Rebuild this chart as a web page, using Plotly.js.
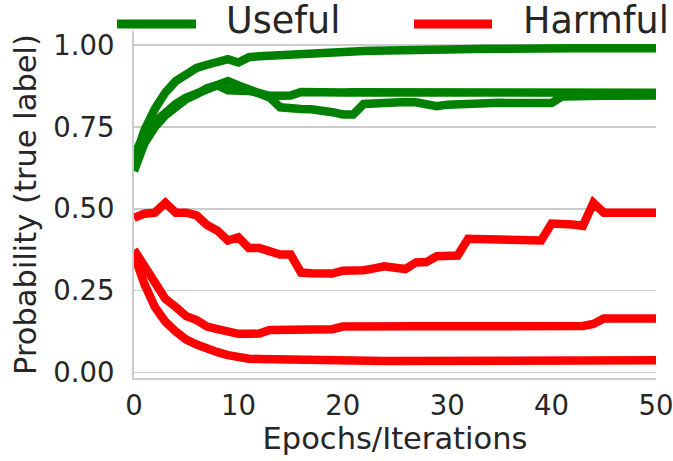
<!DOCTYPE html>
<html>
<head>
<meta charset="utf-8">
<script src="https://cdn.plot.ly/plotly-3.0.1.min.js"></script>
<style>html,body{margin:0;padding:0;background:#fff;}#chart{width:673px;height:461px;}</style>
</head>
<body>
<div id="chart"></div>
<script>
// Epoch index 0..50
var epochs = [];
for (var i = 0; i <= 50; i++) epochs.push(i);

// Useful (green) runs
var usefulTop = [0.645,0.74,0.805,0.855,0.89,0.912,0.93,0.94,0.95,0.957,0.947,0.963,0.966,0.968,0.971,0.973,0.976,0.977,0.977,0.979,0.98,0.981,0.982,0.983,0.984,0.986,0.987,0.987,0.988,0.988,0.988,0.988,0.988,0.989,0.989,0.989,0.99,0.99,0.99,0.99,0.99,0.99,0.99,0.99,0.99,0.99,0.99,0.99,0.99,0.99,0.99];
var usefulMidA = [0.615,0.70,0.75,0.785,0.81,0.835,0.85,0.868,0.878,0.89,0.877,0.866,0.855,0.84,0.81,0.805,0.805,0.804,0.802,0.795,0.788,0.788,0.82,0.823,0.825,0.826,0.826,0.825,0.816,0.813,0.818,0.82,0.822,0.824,0.825,0.824,0.823,0.822,0.821,0.821,0.823,0.843,0.845,0.845,0.846,0.845,0.845,0.845,0.845,0.845,0.846];
var usefulMidB = [0.665,0.725,0.765,0.795,0.82,0.84,0.852,0.87,0.877,0.862,0.862,0.86,0.853,0.845,0.845,0.846,0.857,0.855,0.854,0.853,0.855,0.856,0.856,0.852,0.855,0.856,0.856,0.856,0.855,0.854,0.855,0.856,0.857,0.858,0.858,0.857,0.856,0.855,0.853,0.852,0.852,0.852,0.853,0.853,0.853,0.852,0.853,0.853,0.853,0.853,0.854];

// Harmful (red) runs
var harmfulTop = [0.472,0.485,0.488,0.518,0.488,0.488,0.48,0.45,0.433,0.403,0.413,0.38,0.38,0.37,0.36,0.36,0.305,0.303,0.302,0.302,0.311,0.311,0.312,0.318,0.324,0.32,0.316,0.336,0.337,0.355,0.355,0.357,0.408,0.407,0.407,0.407,0.405,0.405,0.405,0.403,0.455,0.456,0.452,0.448,0.518,0.488,0.488,0.488,0.488,0.488,0.488];
var harmfulMid = [0.375,0.325,0.27,0.225,0.2,0.172,0.16,0.14,0.132,0.123,0.118,0.118,0.119,0.13,0.131,0.131,0.13,0.13,0.131,0.132,0.14,0.141,0.141,0.14,0.139,0.14,0.141,0.141,0.141,0.142,0.141,0.141,0.141,0.141,0.141,0.141,0.141,0.141,0.141,0.142,0.142,0.142,0.142,0.142,0.148,0.165,0.165,0.165,0.165,0.165,0.165];
var harmfulLow = [0.36,0.27,0.2,0.155,0.125,0.1,0.085,0.072,0.062,0.053,0.046,0.042,0.041,0.04,0.039,0.038,0.037,0.037,0.036,0.036,0.036,0.036,0.036,0.036,0.035,0.035,0.035,0.035,0.035,0.035,0.035,0.035,0.035,0.035,0.035,0.035,0.035,0.036,0.036,0.036,0.036,0.036,0.036,0.036,0.037,0.037,0.037,0.037,0.037,0.037,0.037];

var xTicks = [0,10,20,30,40,50];
var yTicks = [0,0.25,0.5,0.75,1.0];
var yTickText = ["0.00","0.25","0.50","0.75","1.00"];
var legendNames = ["Useful","Harmful"];

var GREEN = "#008000", RED = "#ff0000";
var FONT = "DejaVu Sans, sans-serif";
var TXT = "#262626";

function tr(y, c) {
  return {x: epochs, y: y, type: "scatter", mode: "lines", showlegend: false,
          hoverinfo: "skip", line: {color: c, width: 8.5}};
}
var data = [tr(harmfulLow, RED), tr(harmfulMid, RED), tr(harmfulTop, RED),
            tr(usefulMidA, GREEN), tr(usefulMidB, GREEN), tr(usefulTop, GREEN)];

// plot area: x 134..656, y 31..378
var L = 134, R = 656, T = 31, B = 378, W = 673, H = 461;
function px(xp){ return (xp - L) / (R - L); }
function py(yp){ return (B - yp) / (B - T); }

var layout = {
  width: W, height: H,
  margin: {l: L, r: W - R, t: T, b: H - B, pad: 0},
  paper_bgcolor: "#fff", plot_bgcolor: "#fff",
  font: {family: FONT, color: TXT, size: 28},
  showlegend: false,
  xaxis: {
    range: [0, 50], tickvals: xTicks, ticks: "", showgrid: false, zeroline: false,
    showline: true, linecolor: "#cccccc", linewidth: 2,
    tickfont: {family: FONT, size: 27.5, color: TXT},
    ticklabelstandoff: 2, ticklabeloverflow: "allow",
    title: {text: "Epochs/Iterations", font: {family: FONT, size: 30.5, color: TXT}, standoff: 6}
  },
  yaxis: {
    range: [-0.017, 1.043], tickvals: yTicks, ticktext: yTickText, ticks: "",
    showgrid: true, gridcolor: "#cccccc", gridwidth: 1.5, zeroline: false,
    showline: true, linecolor: "#cccccc", linewidth: 2,
    tickfont: {family: FONT, size: 27.5, color: TXT},
    ticklabelstandoff: 12,
    title: {text: "Probability (true label)", font: {family: FONT, size: 30.5, color: TXT}, standoff: 8}
  },
  shapes: [
    {type: "line", xref: "paper", yref: "paper", x0: px(117), x1: px(196), y0: py(24), y1: py(24),
     line: {color: GREEN, width: 9}},
    {type: "line", xref: "paper", yref: "paper", x0: px(414), x1: px(492), y0: py(24), y1: py(24),
     line: {color: RED, width: 9}}
  ],
  annotations: [
    {xref: "paper", yref: "paper", x: px(224), y: py(20), xanchor: "left", yanchor: "middle",
     text: legendNames[0], showarrow: false, font: {family: FONT, size: 36.5, color: TXT}},
    {xref: "paper", yref: "paper", x: px(521), y: py(20), xanchor: "left", yanchor: "middle",
     text: legendNames[1], showarrow: false, font: {family: FONT, size: 36.5, color: TXT}}
  ]
};

Plotly.newPlot("chart", data, layout, {staticPlot: true, displayModeBar: false});
</script>
</body>
</html>
